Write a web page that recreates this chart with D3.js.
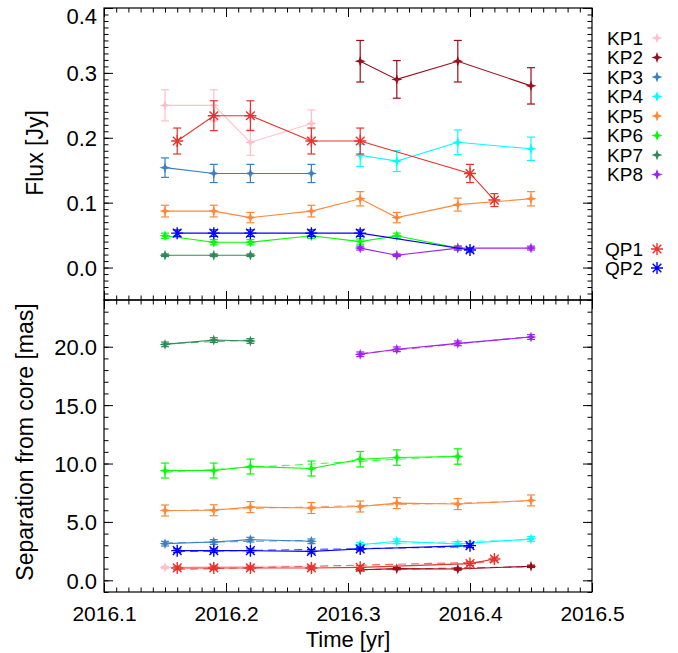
<!DOCTYPE html>
<html>
<head>
<meta charset="utf-8">
<script src="https://cdn.jsdelivr.net/npm/d3@7"></script>
<style>
  body { margin: 0; background: #fff; }
  text { font-family: "Liberation Sans", Arial, Helvetica, sans-serif; fill: #000; }
</style>
</head>
<body>
<svg></svg>
<script>
const svg = d3.select('svg')
    .attr('width', 678)
    .attr('height', 653);

// components
const names = ['KP1', 'KP2', 'KP3', 'KP4', 'KP5', 'KP6', 'KP7', 'KP8', 'QP1', 'QP2'];
const colors = ['#ffc0cb', '#9b0f1a', '#3a80c0', '#00ffff', '#ff8838', '#00ff00', '#2e8b57', '#a020f0', '#e8322c', '#0000ff'];

// epochs [yr]
const tKP1 = [2016.15, 2016.19, 2016.22, 2016.27];
const tKP2 = [2016.31, 2016.34, 2016.39, 2016.45];
const tKP3 = [2016.15, 2016.19, 2016.22, 2016.27];
const tKP4 = [2016.31, 2016.34, 2016.39, 2016.45];
const tKP5 = [2016.15, 2016.19, 2016.22, 2016.27, 2016.31, 2016.34, 2016.39, 2016.45];
const tKP6 = [2016.15, 2016.19, 2016.22, 2016.27, 2016.31, 2016.34, 2016.39];
const tKP7 = [2016.15, 2016.19, 2016.22];
const tKP8 = [2016.31, 2016.34, 2016.39, 2016.45];
const tQP1 = [2016.16, 2016.19, 2016.22, 2016.27, 2016.31, 2016.40, 2016.42];
const tQP2 = [2016.16, 2016.19, 2016.22, 2016.27, 2016.31, 2016.40];

// flux [Jy] and errors
const fluxKP1 = [0.25, 0.25, 0.193, 0.222];
const fluxKP2 = [0.318, 0.29, 0.318, 0.28];
const fluxKP3 = [0.154, 0.145, 0.145, 0.145];
const fluxKP4 = [0.173, 0.164, 0.193, 0.183];
const fluxKP5 = [0.087, 0.087, 0.077, 0.087, 0.106, 0.077, 0.097, 0.106];
const fluxKP6 = [0.049, 0.039, 0.039, 0.049, 0.040, 0.049, 0.030];
const fluxKP7 = [0.019, 0.019, 0.019];
const fluxKP8 = [0.030, 0.019, 0.030, 0.030];
const fluxQP1 = [0.195, 0.234, 0.234, 0.195, 0.195, 0.145, 0.104];
const fluxQP2 = [0.053, 0.053, 0.053, 0.053, 0.053, 0.027];

const fErrKP1 = [0.024, 0.024, 0.02, 0.021];
const fErrKP2 = [0.032, 0.029, 0.032, 0.028];
const fErrKP3 = [0.015, 0.014, 0.014, 0.014];
const fErrKP4 = [0.017, 0.016, 0.019, 0.018];
const fErrKP5 = [0.009, 0.009, 0.008, 0.009, 0.011, 0.008, 0.01, 0.011];
const fErrKP6 = [0.004, 0.004, 0.004, 0.004, 0.004, 0.004, 0.003];
const fErrKP7 = [0.002, 0.002, 0.002];
const fErrKP8 = [0.003, 0.002, 0.003, 0.003];
const fErrQP1 = [0.02, 0.023, 0.023, 0.02, 0.02, 0.014, 0.01];
const fErrQP2 = [0.005, 0.005, 0.005, 0.005, 0.005, 0.003];

// separation from core [mas] and errors
const sepKP1 = [1.1, 1.15, 1.2, 1.2];
const sepKP2 = [0.91, 1.0, 0.97, 1.2];
const sepKP3 = [3.14, 3.28, 3.48, 3.34];
const sepKP4 = [3.05, 3.34, 3.11, 3.54];
const sepKP5 = [5.98, 6.0, 6.27, 6.19, 6.32, 6.61, 6.53, 6.84];
const sepKP6 = [9.40, 9.40, 9.74, 9.57, 10.37, 10.51, 10.6];
const sepKP7 = [20.2, 20.57, 20.49];
const sepKP8 = [19.35, 19.78, 20.29, 20.83];
const sepQP1 = [1.06, 1.06, 1.06, 1.06, 1.11, 1.43, 1.83];
const sepQP2 = [2.54, 2.54, 2.54, 2.48, 2.68, 2.97];

const sErrKP1 = [0.1, 0.1, 0.1, 0.1];
const sErrKP2 = [0.1, 0.1, 0.1, 0.1];
const sErrKP3 = [0.2, 0.2, 0.2, 0.2];
const sErrKP4 = [0.2, 0.2, 0.2, 0.2];
const sErrKP5 = [0.47, 0.47, 0.47, 0.47, 0.47, 0.47, 0.47, 0.47];
const sErrKP6 = [0.64, 0.64, 0.64, 0.64, 0.66, 0.66, 0.66];
const sErrKP7 = [0.2, 0.2, 0.2];
const sErrKP8 = [0.2, 0.2, 0.2, 0.2];
const sErrQP1 = [0.15, 0.15, 0.15, 0.15, 0.15, 0.15, 0.15];
const sErrQP2 = [0.15, 0.15, 0.15, 0.15, 0.15, 0.15];

const xTicks = [2016.1, 2016.2, 2016.3, 2016.4, 2016.5];
const fluxTicks = [0.0, 0.1, 0.2, 0.3, 0.4];
const sepTicks = [0, 5, 10, 15, 20];

const times = [tKP1, tKP2, tKP3, tKP4, tKP5, tKP6, tKP7, tKP8, tQP1, tQP2];
const fluxes = [fluxKP1, fluxKP2, fluxKP3, fluxKP4, fluxKP5, fluxKP6, fluxKP7, fluxKP8, fluxQP1, fluxQP2];
const fErrs = [fErrKP1, fErrKP2, fErrKP3, fErrKP4, fErrKP5, fErrKP6, fErrKP7, fErrKP8, fErrQP1, fErrQP2];
const seps = [sepKP1, sepKP2, sepKP3, sepKP4, sepKP5, sepKP6, sepKP7, sepKP8, sepQP1, sepQP2];
const sErrs = [sErrKP1, sErrKP2, sErrKP3, sErrKP4, sErrKP5, sErrKP6, sErrKP7, sErrKP8, sErrQP1, sErrQP2];

const series = names.map((n, k) => ({
    name: n,
    color: colors[k],
    qp: n.startsWith('QP'),
    flux: times[k].map((t, i) => ({ t: t, v: fluxes[k][i], e: fErrs[k][i] })),
    sep: times[k].map((t, i) => ({ t: t, v: seps[k][i], e: sErrs[k][i] }))
}));

const left = 104, right = 592;
const x = d3.scaleLinear().domain([2016.1, 2016.5]).range([left, right]);
const yFlux = d3.scaleLinear().domain([-0.05, 0.4]).range([300, 8]);
const ySep = d3.scaleLinear().domain([-1, 24]).range([592, 300]);

const starPath = 'M0,-5.5L1.4,-1.4L5.5,0L1.4,1.4L0,5.5L-1.4,1.4L-5.5,0L-1.4,-1.4Z';

function drawMarker(g, px, py, s) {
    if (s.qp) {
        const r = 6;
        const d = r * 0.72;
        g.append('path')
            .attr('transform', `translate(${px},${py})`)
            .attr('d', `M${-d},${-d}L${d},${d}M${-d},${d}L${d},${-d}M0,${-r}L0,${r}M${-r},0L${r},0`)
            .attr('stroke', s.color)
            .attr('stroke-width', 1.4)
            .attr('fill', 'none');
    } else {
        g.append('path')
            .attr('transform', `translate(${px},${py})`)
            .attr('d', starPath)
            .attr('fill', s.color);
    }
}

function drawPanel(key, y, ticks, fmt, withFit) {
    const g = svg.append('g');

    // minor ticks
    const xMinor = d3.range(0, 41).map(i => 2016.1 + i * 0.01);
    const yDom = y.domain();
    const yStep = key === 'flux' ? 0.01 : 1;
    const yMinor = d3.range(Math.ceil(yDom[0] / yStep - 1e-6), Math.floor(yDom[1] / yStep + 1e-6) + 1).map(i => i * yStep);
    const y0 = y.range()[0], y1 = y.range()[1];

    g.append('g').attr('transform', `translate(0,${y0})`)
        .call(d3.axisBottom(x).tickValues(xMinor).tickFormat('').tickSizeInner(-4.5).tickSizeOuter(0));
    g.append('g').attr('transform', `translate(0,${y1})`)
        .call(d3.axisTop(x).tickValues(xMinor).tickFormat('').tickSizeInner(-4.5).tickSizeOuter(0));
    g.append('g').attr('transform', `translate(${left},0)`)
        .call(d3.axisLeft(y).tickValues(yMinor).tickFormat('').tickSizeInner(-4.5).tickSizeOuter(0));
    g.append('g').attr('transform', `translate(${right},0)`)
        .call(d3.axisRight(y).tickValues(yMinor).tickFormat('').tickSizeInner(-4.5).tickSizeOuter(0));

    // major ticks
    const bottomAx = g.append('g').attr('transform', `translate(0,${y0})`)
        .call(d3.axisBottom(x).tickValues(xTicks).tickFormat(key === 'sep' ? d3.format('.1f') : '').tickSizeInner(-9).tickSizeOuter(0).tickPadding(14));
    g.append('g').attr('transform', `translate(0,${y1})`)
        .call(d3.axisTop(x).tickValues(xTicks).tickFormat('').tickSizeInner(-9).tickSizeOuter(0));
    const leftAx = g.append('g').attr('transform', `translate(${left},0)`)
        .call(d3.axisLeft(y).tickValues(ticks).tickFormat(fmt).tickSizeInner(-9).tickSizeOuter(0).tickPadding(7));
    g.append('g').attr('transform', `translate(${right},0)`)
        .call(d3.axisRight(y).tickValues(ticks).tickFormat('').tickSizeInner(-9).tickSizeOuter(0));

    g.selectAll('.domain').remove();
    g.selectAll('.tick line').attr('stroke', '#000').attr('stroke-width', 1);
    g.selectAll('.tick text').style('font-size', '22px').attr('fill', '#000');
    bottomAx.selectAll('.tick text').style('font-size', '21px').attr('dy', '0.71em');
    // keep the top label inside the picture
    leftAx.selectAll('.tick text')
        .attr('dy', d => (y(d) - y1 < 8 ? '0.7em' : '0.36em'));

    g.append('rect')
        .attr('x', left).attr('y', y1)
        .attr('width', right - left).attr('height', y0 - y1)
        .attr('fill', 'none').attr('stroke', '#000').attr('stroke-width', 1.2);

    const line = d3.line().x(d => x(d.t)).y(d => y(d.v));

    series.forEach(s => {
        const pts = s[key];
        const sg = svg.append('g');

        // error bars
        pts.forEach(d => {
            sg.append('line')
                .attr('x1', x(d.t)).attr('x2', x(d.t))
                .attr('y1', y(d.v - d.e)).attr('y2', y(d.v + d.e))
                .attr('stroke', s.color).attr('stroke-width', 1.2);
            [d.v - d.e, d.v + d.e].forEach(v => {
                sg.append('line')
                    .attr('x1', x(d.t) - 4).attr('x2', x(d.t) + 4)
                    .attr('y1', y(v)).attr('y2', y(v))
                    .attr('stroke', s.color).attr('stroke-width', 1.2);
            });
        });

        sg.append('path')
            .datum(pts)
            .attr('d', line)
            .attr('fill', 'none')
            .attr('stroke', s.color)
            .attr('stroke-width', 1.1);

        if (withFit) {
            // least squares linear fit, dashed
            const mt = d3.mean(pts, d => d.t), mv = d3.mean(pts, d => d.v);
            const slope = d3.sum(pts, d => (d.t - mt) * (d.v - mv)) / d3.sum(pts, d => (d.t - mt) * (d.t - mt));
            const ends = d3.extent(pts, d => d.t).map(t => ({ t: t, v: mv + slope * (t - mt) }));
            sg.append('path')
                .datum(ends)
                .attr('d', line)
                .attr('fill', 'none')
                .attr('stroke', s.color)
                .attr('stroke-opacity', 0.75)
                .attr('stroke-width', 1.1)
                .attr('stroke-dasharray', '8,5');
        }

        pts.forEach(d => drawMarker(sg, x(d.t), y(d.v), s));
    });
}

drawPanel('flux', yFlux, fluxTicks, d3.format('.1f'), false);
drawPanel('sep', ySep, sepTicks, d3.format('.1f'), true);

// axis titles
svg.append('text')
    .attr('transform', 'translate(43,153) rotate(-90)')
    .attr('text-anchor', 'middle')
    .style('font-size', '23px')
    .text('Flux [Jy]');

svg.append('text')
    .attr('transform', 'translate(33,442) rotate(-90)')
    .attr('text-anchor', 'middle')
    .style('font-size', '23px')
    .text('Separation from core [mas]');

svg.append('text')
    .attr('x', 348)
    .attr('y', 647)
    .attr('text-anchor', 'middle')
    .style('font-size', '22px')
    .text('Time [yr]');

// legend
const legendY = [38, 57.5, 77, 96.5, 116, 135.5, 155, 174.5, 249, 268];
series.forEach((s, k) => {
    svg.append('text')
        .attr('x', 643)
        .attr('y', legendY[k])
        .attr('dy', '0.35em')
        .attr('text-anchor', 'end')
        .style('font-size', '19px')
        .text(s.name);
    drawMarker(svg, 657, legendY[k], s);
});
</script>
</body>
</html>
